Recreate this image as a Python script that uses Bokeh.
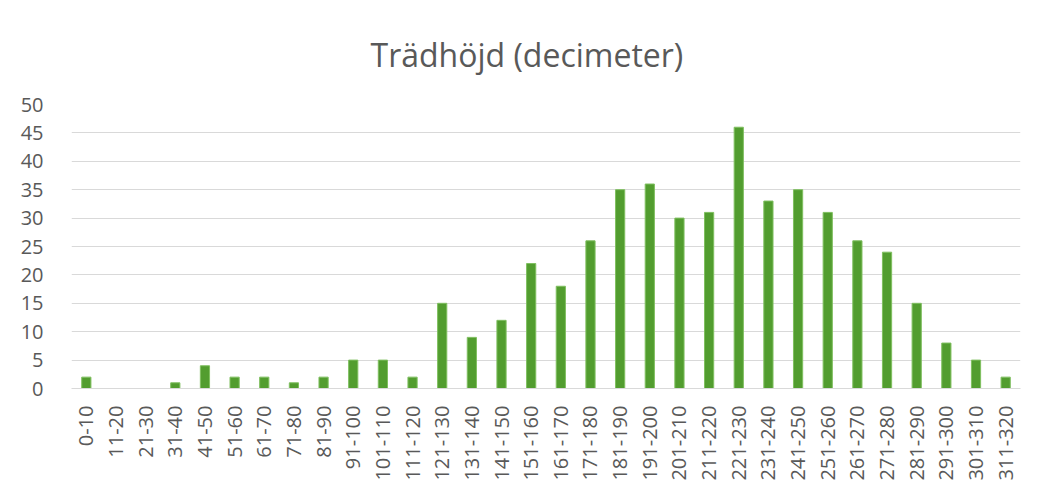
import math
from bokeh.plotting import figure
from bokeh.models import FactorRange, Range1d, ColumnDataSource, SingleIntervalTicker
from bokeh.embed import file_html
from bokeh.resources import INLINE

categories = ["0-10", "11-20", "21-30", "31-40", "41-50", "51-60", "61-70", "71-80",
              "81-90", "91-100", "101-110", "111-120", "121-130", "131-140", "141-150",
              "151-160", "161-170", "171-180", "181-190", "191-200", "201-210", "211-220",
              "221-230", "231-240", "241-250", "251-260", "261-270", "271-280", "281-290",
              "291-300", "301-310", "311-320"]
counts = [2, 0, 0, 1, 4, 2, 2, 1, 2, 5, 5, 2, 15, 9, 12, 22, 18, 26, 35, 36, 30, 31,
          46, 33, 35, 31, 26, 24, 15, 8, 5, 2]
title_text = "Trädhöjd (decimeter)"

src = ColumnDataSource(dict(cat=categories, val=counts))

p = figure(width=1024, height=483, output_backend="svg", toolbar_location=None,
           x_range=FactorRange(*categories, range_padding=0), y_range=Range1d(0, 50),
           min_border_left=71, min_border_right=4, min_border_top=104, min_border_bottom=93)

p.vbar(x="cat", top="val", width=0.31, source=src, fill_color="#529D2F",
       line_color="#7FBF5F", line_width=1)

p.title.text = title_text
p.title.align = "left"
p.title.text_font = "Open Sans"
p.title.text_font_size = "32px"
p.title.text_font_style = "normal"
p.title.text_color = "#595959"
p.title.standoff = 58
p.title.offset = 299

p.outline_line_color = None
p.xgrid.grid_line_color = None
p.ygrid.grid_line_color = "#D9D9D9"
p.ygrid.grid_line_width = 1
p.yaxis.ticker = SingleIntervalTicker(interval=5)

for ax in (p.xaxis, p.yaxis):
    ax.major_tick_line_color = None
    ax.minor_tick_line_color = None
    ax.major_label_text_font = "Open Sans"
    ax.major_label_text_font_size = "20px"
    ax.major_label_text_color = "#595959"
p.yaxis.axis_line_color = None
p.xaxis.axis_line_color = "#D9D9D9"
p.xaxis.major_label_orientation = math.pi / 2
p.xaxis.major_label_standoff = 11
p.yaxis.major_label_standoff = 22

open("out.html", "w").write(file_html(p, INLINE))
